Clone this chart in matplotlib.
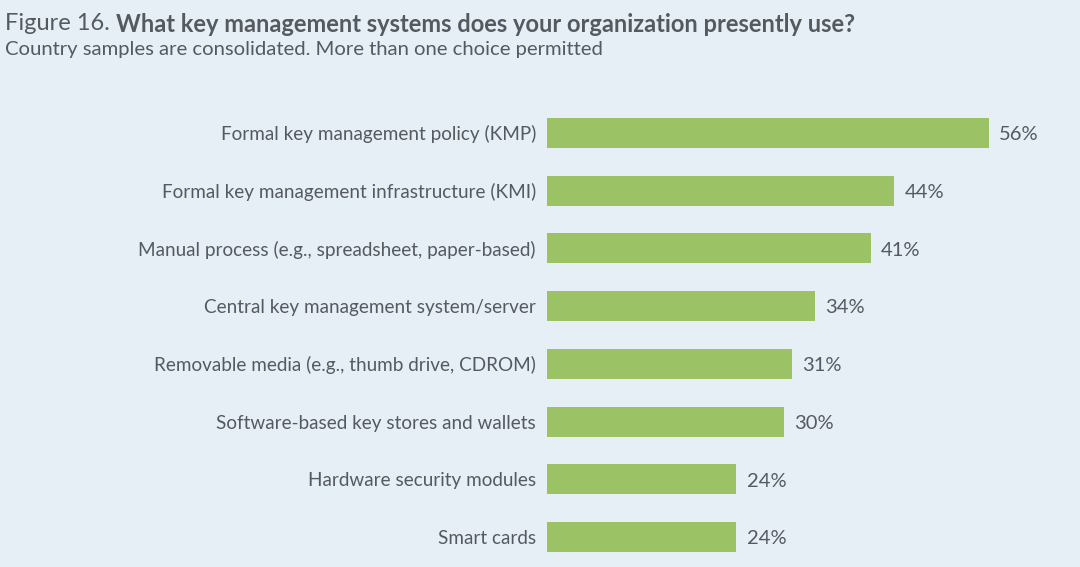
import matplotlib
matplotlib.use("Agg")
import matplotlib.pyplot as plt

categories = [
    "Formal key management policy (KMP)",
    "Formal key management infrastructure (KMI)",
    "Manual process (e.g., spreadsheet, paper-based)",
    "Central key management system/server",
    "Removable media (e.g., thumb drive, CDROM)",
    "Software-based key stores and wallets",
    "Hardware security modules",
    "Smart cards",
]
values = [56, 44, 41, 34, 31, 30, 24, 24]

bg = "#e6eef6"
bar_color = "#9bc264"
text_color = "#555a5f"
plt.rcParams["font.family"] = ["Lato", "DejaVu Sans"]

fig = plt.figure(figsize=(10.8, 5.67), dpi=100, facecolor=bg)
ax = fig.add_axes([547 / 1080, 1 - 566 / 567, 513 / 1080, 462 / 567])
ax.set_facecolor(bg)

y = range(len(categories))
ax.barh(y, values, height=0.52, color=bar_color)
for i, v in enumerate(values):
    ax.text(v + 1.3, i + 0.03, f"{v}%", va="center", ha="left", fontsize=14.5, color=text_color)

ax.set_xlim(0, 65)
ax.set_ylim(len(categories) - 0.5, -0.5)
ax.set_yticks(list(y))
ax.set_yticklabels(categories, fontsize=13.6, color=text_color)
ax.tick_params(axis="y", length=0, pad=8)
ax.set_xticks([])
for s in ax.spines.values():
    s.set_visible(False)

# title: regular "Figure 16." then bold question
t1 = fig.text(5 / 1080, 1 - 24 / 567, "Figure 16. ", fontsize=17, color=text_color, va="center")
r = fig.canvas.get_renderer()
bb = t1.get_window_extent(renderer=r)
fig.text(bb.x1 / 1080, 1 - 24 / 567, "What key management systems does your organization presently use?",
         fontsize=17, fontweight="bold", color=text_color, va="center")
fig.text(5 / 1080, 1 - 49 / 567, "Country samples are consolidated. More than one choice permitted",
         fontsize=14.6, color=text_color, va="center")

fig.savefig("out.png", dpi=100, facecolor=bg)
